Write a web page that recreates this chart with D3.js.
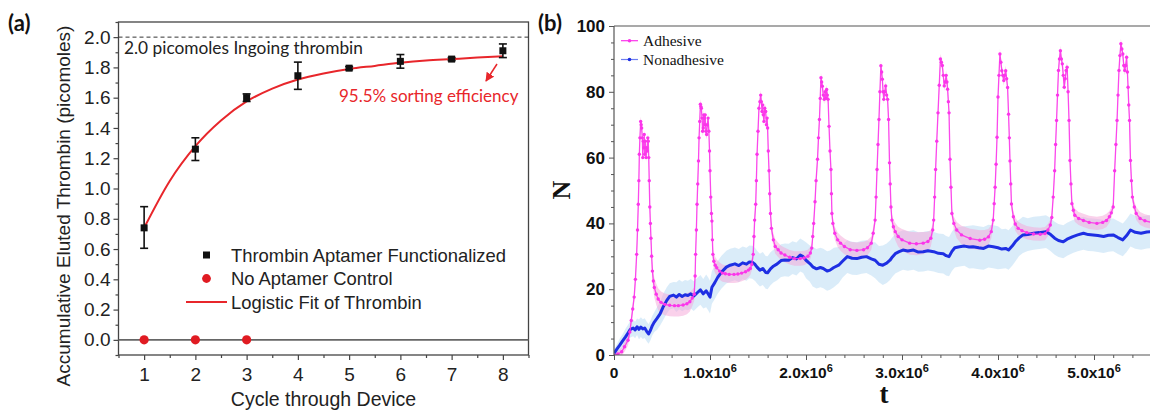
<!DOCTYPE html>
<html><head><meta charset="utf-8">
<script src="https://cdn.jsdelivr.net/npm/d3@7"></script>
<style>body{margin:0;background:#fff}svg{display:block}</style>
</head><body>
<svg id="c" width="1150" height="410"></svg>
<script>
// ---------- Panel (a) data ----------
const cycles = [1, 2, 3, 4, 5, 6, 7, 8];
const thrombinMean = [0.74, 1.26, 1.60, 1.745, 1.795, 1.84, 1.855, 1.91];
const thrombinLow  = [0.605, 1.185, 1.575, 1.655, 1.785, 1.795, 1.845, 1.865];
const thrombinHigh = [0.88, 1.335, 1.625, 1.835, 1.805, 1.885, 1.865, 1.955];
const controlCycles = [1, 2, 3];
const controlValues = [0, 0, 0];
const fitX = [1, 1.5, 2, 2.5, 3, 3.5, 4, 4.5, 5, 5.5, 6, 6.5, 7, 7.5, 8];
const fitY = [0.74, 1.05, 1.28, 1.45, 1.575, 1.66, 1.72, 1.76, 1.79, 1.81, 1.83, 1.845, 1.855, 1.865, 1.873];
const ingoingLevel = 2.0;
const aYTicks = [0, 0.2, 0.4, 0.6, 0.8, 1.0, 1.2, 1.4, 1.6, 1.8, 2.0];
const aYMinor = [-0.1, 0.1, 0.3, 0.5, 0.7, 0.9, 1.1, 1.3, 1.5, 1.7, 1.9, 2.1];
const aXTicks = [1, 2, 3, 4, 5, 6, 7, 8];
const aXMinor = [0.5, 1.5, 2.5, 3.5, 4.5, 5.5, 6.5, 7.5, 8.5];
const aLegend = ["Thrombin Aptamer Functionalized", "No Aptamer Control", "Logistic Fit of Thrombin"];

// ---------- Panel (b) data: [t (x10^6), N, band half-width] ----------
const adhesive = [
[0,0,1],[0.04,0.3,1],[0.08,1,1.2],[0.11,2.5,1.5],[0.146,4.5,1.5],[0.165,7,1.5],[0.18,10.5,1.5],[0.195,14,1.5],[0.21,17.6,1.5],[0.223,23,1.5],[0.236,30.6,1.5],[0.245,38,1.5],[0.253,45.8,1.5],[0.259,53,1.5],[0.264,61,1.5],[0.27,66,1.5],[0.278,71,1.5],[0.283,70,1.5],[0.288,69,1.5],[0.295,66,1.5],[0.3,60,1.5],[0.305,65,1.5],[0.31,63,1.5],[0.315,67,1.5],[0.32,61,1.5],[0.327,65,1.5],[0.334,60,1.5],[0.34,63,1.5],[0.347,62,1.5],[0.352,66,1.5],[0.357,65,1.5],[0.362,60,1.5],[0.367,53,1.5],[0.373,45,1.5],[0.379,40,1.8],[0.385,35.5,2],[0.392,30,2.2],[0.4,25.5,2.5],[0.41,22.5,2.8],[0.42,20.5,3],[0.44,18.5,3.2],[0.46,17,3.3],[0.49,16,3.3],[0.53,15.4,3.3],[0.58,15.1,3.3],[0.63,15,3.3],[0.67,15,3.3],[0.72,15.2,3.3],[0.76,15.6,3.2],[0.79,16.2,3],[0.815,17.3,2.5],[0.836,18.5,2],
[0.845,24,1.5],[0.85,30.6,1.5],[0.858,38,1.5],[0.865,45.8,1.5],[0.872,52,1.5],[0.88,59,1.5],[0.886,66,1.5],[0.893,71,1.5],[0.9,76.2,1.5],[0.905,75.5,1.5],[0.91,75,1.5],[0.917,72,1.5],[0.923,68,1.5],[0.93,69,1.5],[0.935,73,1.5],[0.94,72,1.5],[0.945,70,1.5],[0.95,73,1.5],[0.957,68,1.5],[0.965,67,1.5],[0.972,70,1.5],[0.98,72,1.5],[0.988,68,1.5],[0.995,62,1.5],[1.0,56,1.5],[1.008,48,1.5],[1.015,43,1.6],[1.02,40.7,1.8],[1.025,35,2],[1.03,30.6,2.2],[1.04,28.5,2.4],[1.055,27.3,2.5],[1.07,26.5,2.5],[1.1,25.5,2.6],[1.13,24.9,2.6],[1.16,24.7,2.6],[1.2,24.5,2.6],[1.25,24.5,2.6],[1.29,24.6,2.6],[1.33,24.9,2.5],[1.37,25.3,2.4],[1.4,25.8,2.2],[1.42,26.3,2],[1.435,27.5,1.8],
[1.45,30.6,1.5],[1.458,36,1.5],[1.465,41,1.5],[1.476,45.8,1.5],[1.483,53,1.5],[1.49,61,1.5],[1.5,68,1.5],[1.51,75,1.5],[1.52,77,1.5],[1.528,79,1.5],[1.535,77,1.5],[1.542,74,1.5],[1.548,76,1.5],[1.555,73,1.5],[1.562,71,1.5],[1.57,75,1.5],[1.58,74,1.5],[1.588,70,1.5],[1.595,72,1.5],[1.6,69,1.5],[1.607,62,1.5],[1.615,56,1.5],[1.622,49,1.5],[1.63,43,1.6],[1.64,38.5,1.8],[1.66,35,2],[1.68,33,2.2],[1.71,32,2.2],[1.74,31,2.2],[1.78,30.4,2.2],[1.83,29.7,2.2],[1.88,29.3,2.2],[1.94,29.3,2.2],[1.98,29.5,2.2],[2.02,30,2],[2.045,31,1.8],
[2.06,32.5,1.5],[2.07,36,1.5],[2.08,40,1.5],[2.094,46.6,1.5],[2.105,53,1.5],[2.12,59.5,1.5],[2.13,66,1.5],[2.14,71.6,1.5],[2.148,78,1.5],[2.156,84.3,1.5],[2.163,83,1.5],[2.17,81.7,1.5],[2.18,79,1.5],[2.19,77.7,1.5],[2.2,80,1.5],[2.208,78,1.5],[2.215,80.7,1.5],[2.222,79,1.5],[2.23,77.7,1.5],[2.24,69.5,1.5],[2.25,62,1.5],[2.26,56.4,1.5],[2.265,49,1.5],[2.27,43,1.6],[2.28,40,1.8],[2.3,37,2],[2.33,35,2.2],[2.36,34,2.3],[2.4,33,2.4],[2.46,32,2.4],[2.53,31.8,2.4],[2.6,32,2.4],[2.64,32.6,2.3],[2.68,34,2],
[2.7,37,1.8],[2.72,41,1.5],[2.73,48,1.5],[2.74,56.4,1.5],[2.75,64,1.5],[2.76,71.6,1.5],[2.77,80,1.5],[2.78,87.9,1.5],[2.788,86,1.5],[2.795,83.8,1.5],[2.803,80,1.5],[2.81,77.7,1.5],[2.82,80,1.5],[2.83,81.8,1.5],[2.84,79,1.5],[2.85,77.7,1.5],[2.86,71.6,1.5],[2.87,58.4,1.5],[2.877,52,1.5],[2.885,45,1.6],[2.895,41,1.8],[2.91,39,2.2],[2.93,37.5,2.6],[2.96,36,3],[3.0,35,3.3],[3.08,34,3.5],[3.15,33.8,3.5],[3.22,34,3.4],[3.27,34.5,3],[3.3,35.5,2.5],[3.32,38,2],
[3.33,41,1.5],[3.34,48,1.5],[3.35,56.4,1.5],[3.362,65,1.5],[3.375,73.6,1.5],[3.388,82,1.5],[3.4,90,1.5],[3.41,89,1.5],[3.42,88,1.5],[3.43,85,1.5],[3.44,81.8,1.5],[3.45,83,1.5],[3.46,85,1.5],[3.468,83,1.5],[3.475,80.8,1.5],[3.483,77,1.5],[3.49,73.6,1.5],[3.5,59.5,1.5],[3.51,51,1.5],[3.52,43,1.6],[3.54,40,2],[3.57,38,2.4],[3.62,36.5,2.8],[3.71,35.4,3],[3.81,34.9,3],[3.86,35.2,2.8],[3.9,35.9,2.4],[3.93,37.5,2],
[3.95,41,1.5],[3.96,46,1.5],[3.97,51,1.5],[3.98,58,1.5],[3.99,66.2,1.5],[4.0,78.4,1.5],[4.01,85,1.5],[4.02,91.5,1.5],[4.03,89,1.5],[4.04,86.4,1.5],[4.05,85,1.5],[4.06,83.4,1.5],[4.07,85,1.5],[4.08,86.4,1.5],[4.09,84,1.5],[4.1,81.3,1.5],[4.11,73.2,1.5],[4.118,66,1.5],[4.125,59,1.5],[4.133,52,1.5],[4.14,45.9,1.6],[4.16,42,1.8],[4.18,39.8,2],[4.21,38.5,2],[4.25,37.8,2],[4.3,37.2,2],[4.37,36.8,2],[4.44,36.7,2],[4.49,36.9,2],[4.52,38,1.8],[4.545,39.5,1.6],
[4.56,41.8,1.5],[4.575,48,1.5],[4.59,56,1.5],[4.6,64,1.5],[4.61,71.3,1.5],[4.62,79,1.5],[4.63,86.5,1.5],[4.64,90,1.5],[4.65,92.5,1.5],[4.66,90,1.5],[4.67,88.5,1.5],[4.68,85,1.5],[4.69,81.4,1.5],[4.7,84,1.5],[4.71,86.5,1.5],[4.72,87.5,1.5],[4.73,80,1.5],[4.74,71.3,1.5],[4.75,59.1,1.5],[4.76,52,1.5],[4.77,46,1.6],[4.785,44,1.8],[4.8,42.5,2],[4.84,41.5,2],[4.89,40.9,2],[4.95,40.3,2],[5.03,40,2],[5.09,40.3,2],[5.13,40.9,2],[5.16,42,1.8],[5.18,43.2,1.6],
[5.2,45,1.5],[5.215,56,1.5],[5.228,64,1.5],[5.24,71.3,1.5],[5.25,79,1.5],[5.26,86.5,1.5],[5.27,91,1.5],[5.28,94.6,1.5],[5.29,93,1.5],[5.3,91.5,1.5],[5.31,88,1.5],[5.32,86.5,1.5],[5.33,88,1.5],[5.34,90.5,1.5],[5.348,86,1.5],[5.355,81.4,1.5],[5.362,76,1.5],[5.37,71.3,1.5],[5.38,59.1,1.5],[5.39,53,1.5],[5.4,48,1.6],[5.42,45,1.8],[5.44,43,2],[5.48,41.5,2],[5.53,40.8,2],[5.6,40.3,2]
];
const nonadhesive = [
[0,0.5,1],[0.03,1.8,1.5],[0.06,3,2],[0.09,4.3,2],[0.12,5.5,2.5],[0.146,6.7,2.5],[0.17,7.8,2.5],[0.2,8.2,2.5],[0.22,7.6,2.5],[0.24,8.6,2.5],[0.26,7.8,3],[0.28,8.5,3],[0.3,7.9,3],[0.32,8.2,3],[0.34,7.2,3],[0.36,6.4,3],[0.38,7.5,3],[0.4,9,3],[0.42,10,3],[0.45,11.2,3.5],[0.48,12.5,3.5],[0.51,14.5,4],[0.55,16.6,4],[0.58,17.8,4],[0.62,18.2,4],[0.65,17.6,4.5],[0.68,18.4,4.5],[0.71,17.8,4.5],[0.74,18.3,4.5],[0.77,18.1,4.5],[0.8,18.6,4.5],[0.83,17.9,4.5],[0.87,19,4.5],[0.9,19.8,4.5],[0.93,18.6,4.5],[0.96,19.5,5],[0.98,18.6,5],[1.0,17.6,5],[1.02,20.6,5],[1.05,22,5],[1.08,23.6,5],[1.12,25.2,5],[1.17,26.7,5],[1.21,27.3,5],[1.26,27.7,5],[1.3,27.2,5],[1.34,28,5],[1.38,27.6,5],[1.41,28.3,5],[1.44,28.2,5],[1.47,27.5,5],[1.49,26.7,5],[1.52,25.8,5],[1.55,26.3,5],[1.58,25.1,5],[1.6,25,5],[1.63,26.2,5],[1.66,27,5],[1.7,27.7,5],[1.74,28.7,5],[1.78,28.9,5],[1.82,28.8,5],[1.86,29.6,5],[1.9,29.2,5],[1.94,30.4,5],[1.97,29.9,5],[2.0,28.8,5.5],[2.04,27.8,5.5],[2.07,26.8,6],[2.11,26.2,6],[2.15,26.6,6],[2.18,26.3,6],[2.22,25.5,6],[2.25,25.8,6],[2.29,26.6,6],[2.34,27.3,5.5],[2.38,28.5,5],[2.43,29.9,5],[2.48,29.4,5],[2.53,29.3,5],[2.58,29.7,5],[2.63,29.9,5],[2.68,29.2,5],[2.72,28.8,5.5],[2.76,27.6,5.5],[2.8,27.3,6],[2.84,27.9,6],[2.875,28.8,6],[2.9,29.8,6],[2.93,30.8,6],[2.97,31.4,6],[3.01,31.9,6],[3.06,31.6,6],[3.12,31.9,6],[3.17,31.3,6],[3.22,31.4,6],[3.27,31.7,6],[3.33,31.4,6],[3.38,30.9,6],[3.43,30.8,6],[3.46,30.2,6],[3.49,29.9,6],[3.52,31.5,6],[3.55,32.6,6],[3.6,32.9,6],[3.65,33.1,6],[3.7,32.8,6.5],[3.74,32.9,6.5],[3.8,32.6,6.5],[3.85,32.4,6.5],[3.9,33.1,6.5],[3.95,32.9,6.5],[4.0,32.6,6.5],[4.04,32.2,6],[4.08,32.4,6],[4.11,31.9,6],[4.15,33.2,6],[4.18,34.4,6],[4.22,35.6,5.5],[4.26,36.5,5.5],[4.31,36.6,5],[4.37,37,5],[4.43,37.2,5],[4.5,37.5,5],[4.54,36.8,5],[4.59,35.5,5],[4.63,34.8,5],[4.68,34.4,5],[4.72,35.2,5],[4.78,36,5],[4.83,36.5,5],[4.89,37,5],[4.94,36.6,5],[4.99,36.5,5],[5.04,36.3,5],[5.1,36,5],[5.15,36.4,5],[5.2,36.5,5],[5.25,35.7,5],[5.3,35,5],[5.34,36.3,5],[5.38,38,5],[5.43,37.3,5],[5.49,37,5],[5.55,37.4,5],[5.6,37.5,5]
];
const bXTicks = [0, 1, 2, 3, 4, 5];
const bXTickLabels = ["0", "1.0x10", "2.0x10", "3.0x10", "4.0x10", "5.0x10"];
const bXTickExp = ["", "6", "6", "6", "6", "6"];
const bXMinor = d3.range(0, 5.61, 0.2);
const bYTicks = [0, 20, 40, 60, 80, 100];
const bYMinor = [5, 10, 15, 25, 30, 35, 45, 50, 55, 65, 70, 75, 85, 90, 95];
const bLegend = ["Adhesive", "Nonadhesive"];

// ---------- drawing ----------
const svg = d3.select("#c");
svg.append("rect").attr("width", 1150).attr("height", 410).attr("fill", "#fff");
const sans = "'Liberation Sans', Arial, sans-serif";
const cal = "Lato, 'Open Sans', sans-serif";
const serif = "'Liberation Serif', 'Times New Roman', serif";

// ===== Panel (a) =====
const xA = d3.scaleLinear().domain([0.5, 8.5]).range([118.5, 528.5]);
const yA = d3.scaleLinear().domain([-0.1, 2.1]).range([355, 22]);
const gA = svg.append("g");
const axisCol = "#444";

gA.append("g").attr("transform", "translate(118.5,0)")
  .call(d3.axisLeft(yA).tickValues(aYTicks).tickSize(5).tickPadding(3).tickFormat(d3.format(".1f")))
  .call(g => { g.select(".domain").remove(); g.selectAll("line").attr("stroke", axisCol).attr("stroke-width", 1.2);
    g.selectAll("text").attr("font-family", sans).attr("font-size", 19).attr("fill", "#222"); });
gA.append("g").attr("transform", "translate(118.5,0)")
  .call(d3.axisLeft(yA).tickValues(aYMinor).tickSize(3).tickFormat(""))
  .call(g => { g.select(".domain").remove(); g.selectAll("line").attr("stroke", axisCol).attr("stroke-width", 1.2); });
gA.append("g").attr("transform", "translate(0,355)")
  .call(d3.axisBottom(xA).tickValues(aXTicks).tickSize(5).tickPadding(8).tickFormat(d3.format("d")))
  .call(g => { g.select(".domain").remove(); g.selectAll("line").attr("stroke", axisCol).attr("stroke-width", 1.2);
    g.selectAll("text").attr("font-family", sans).attr("font-size", 19).attr("fill", "#222"); });
gA.append("g").attr("transform", "translate(0,355)")
  .call(d3.axisBottom(xA).tickValues(aXMinor).tickSize(3).tickFormat(""))
  .call(g => { g.select(".domain").remove(); g.selectAll("line").attr("stroke", axisCol).attr("stroke-width", 1.2); });
gA.append("rect").attr("x", xA(0.5)).attr("y", yA(2.1)).attr("width", xA(8.5) - xA(0.5)).attr("height", yA(-0.1) - yA(2.1))
  .attr("fill", "none").attr("stroke", axisCol).attr("stroke-width", 1.3);

// zero line & ingoing dashed line
gA.append("line").attr("x1", xA(0.5)).attr("x2", xA(8.5)).attr("y1", yA(0)).attr("y2", yA(0))
  .attr("stroke", "#666").attr("stroke-width", 1.6);
gA.append("line").attr("x1", xA(0.5)).attr("x2", xA(8.5)).attr("y1", yA(ingoingLevel)).attr("y2", yA(ingoingLevel))
  .attr("stroke", "#333").attr("stroke-width", 1).attr("stroke-dasharray", "4,3");

// axis titles
gA.append("text").attr("transform", `translate(70,${(22 + 390) / 2}) rotate(-90)`).attr("text-anchor", "middle")
  .attr("font-family", sans).attr("font-size", 19).attr("fill", "#222").text("Accumulative Eluted Thrombin (picomoles)");
gA.append("text").attr("x", (xA(0.5) + xA(8.5)) / 2).attr("y", 406).attr("text-anchor", "middle")
  .attr("font-family", sans).attr("font-size", 19.5).attr("fill", "#222").text("Cycle through Device");

// fit line
const red = "#e8262b";
gA.append("path").datum(fitX.map((x, i) => [x, fitY[i]]))
  .attr("d", d3.line().x(d => xA(d[0])).y(d => yA(d[1])).curve(d3.curveMonotoneX))
  .attr("fill", "none").attr("stroke", red).attr("stroke-width", 2);

// error bars
const eb = gA.append("g").attr("stroke", "#111").attr("stroke-width", 1.6);
cycles.forEach((c, i) => {
  const x = xA(c);
  eb.append("line").attr("x1", x).attr("x2", x).attr("y1", yA(thrombinLow[i])).attr("y2", yA(thrombinHigh[i]));
  eb.append("line").attr("x1", x - 4).attr("x2", x + 4).attr("y1", yA(thrombinLow[i])).attr("y2", yA(thrombinLow[i]));
  eb.append("line").attr("x1", x - 4).attr("x2", x + 4).attr("y1", yA(thrombinHigh[i])).attr("y2", yA(thrombinHigh[i]));
});
gA.append("g").selectAll("rect").data(cycles).join("rect")
  .attr("x", d => xA(d) - 3.5).attr("y", (d, i) => yA(thrombinMean[i]) - 3.5).attr("width", 7).attr("height", 7).attr("fill", "#111");
gA.append("g").selectAll("circle").data(controlCycles).join("circle")
  .attr("cx", d => xA(d)).attr("cy", (d, i) => yA(controlValues[i])).attr("r", 4.6).attr("fill", "#e01b22");

// legend (a)
const lg = gA.append("g").attr("font-family", sans).attr("font-size", 18.4).attr("fill", "#222");
lg.append("rect").attr("x", 203).attr("y", 251.5).attr("width", 7).attr("height", 7).attr("fill", "#111");
lg.append("text").attr("x", 231).attr("y", 261.5).text(aLegend[0]);
lg.append("circle").attr("cx", 206.5).attr("cy", 278.5).attr("r", 4.4).attr("fill", "#e01b22");
lg.append("text").attr("x", 231).attr("y", 285).text(aLegend[1]);
lg.append("line").attr("x1", 186).attr("x2", 227).attr("y1", 302).attr("y2", 302).attr("stroke", red).attr("stroke-width", 2);
lg.append("text").attr("x", 231).attr("y", 308.5).text(aLegend[2]);

// annotations
gA.append("text").attr("x", 124).attr("y", 54).attr("font-family", cal).attr("font-size", 17.3).attr("fill", "#222")
  .text("2.0 picomoles Ingoing thrombin");
gA.append("text").attr("x", 339).attr("y", 102).attr("font-family", cal).attr("font-size", 17).attr("fill", red)
  .text("95.5% sorting efficiency");
svg.append("defs").append("marker").attr("id", "ah").attr("viewBox", "0 0 10 10").attr("refX", 9).attr("refY", 5)
  .attr("markerWidth", 6).attr("markerHeight", 6).attr("orient", "auto")
  .append("path").attr("d", "M0,0 L10,5 L0,10 z").attr("fill", red);
gA.append("line").attr("x1", 497).attr("y1", 64).attr("x2", 486).attr("y2", 81)
  .attr("stroke", red).attr("stroke-width", 1.5).attr("marker-end", "url(#ah)");

// panel labels
svg.append("text").attr("x", 8).attr("y", 31).attr("font-family", cal).attr("font-weight", "bold").attr("font-size", 22).attr("fill", "#111").text("(a)");
svg.append("text").attr("x", 538).attr("y", 31).attr("font-family", cal).attr("font-weight", "bold").attr("font-size", 22).attr("fill", "#111").text("(b)");

// ===== Panel (b) =====
const xB = d3.scaleLinear().domain([0, 5.6]).range([614, 614 + 5.6 * 96]);
const yB = d3.scaleLinear().domain([0, 100]).range([355, 26]);
const gB = svg.append("g");
const bAxis = "#555";
svg.select("defs").append("clipPath").attr("id", "clipB").append("rect")
  .attr("x", 614).attr("y", 26).attr("width", 536).attr("height", 329);

const plot = gB.append("g").attr("clip-path", "url(#clipB)");
const areaGen = d3.area().x(d => xB(d[0])).y0(d => yB(d[1] - d[2])).y1(d => yB(d[1] + d[2]));
const lineGen = d3.line().x(d => xB(d[0])).y(d => yB(d[1]));
const blue = "#1e2fe3", mag = "#fb35ea";
plot.append("path").datum(nonadhesive).attr("d", areaGen).attr("fill", "#bcdcf4").attr("opacity", 0.55);
plot.append("path").datum(adhesive).attr("d", areaGen).attr("fill", "#f5a3d8").attr("opacity", 0.5);
plot.append("path").datum(nonadhesive).attr("d", lineGen).attr("fill", "none").attr("stroke", blue)
  .attr("stroke-width", 3).attr("stroke-linejoin", "round");
plot.append("path").datum(adhesive).attr("d", lineGen).attr("fill", "none").attr("stroke", mag)
  .attr("stroke-width", 1.3).attr("opacity", 0.9);
plot.append("g").selectAll("circle").data(adhesive).join("circle")
  .attr("cx", d => xB(d[0])).attr("cy", d => yB(d[1])).attr("r", 1.7).attr("fill", mag);

// axes (b)
gB.append("line").attr("x1", 614).attr("x2", 614).attr("y1", 26).attr("y2", 355).attr("stroke", bAxis).attr("stroke-width", 1.2);
gB.append("line").attr("x1", 614).attr("x2", 1150).attr("y1", 355).attr("y2", 355).attr("stroke", bAxis).attr("stroke-width", 1.2);
gB.append("line").attr("x1", 614).attr("x2", 1150).attr("y1", 26).attr("y2", 26).attr("stroke", bAxis).attr("stroke-width", 1.2);
gB.append("g").attr("transform", "translate(614,0)")
  .call(d3.axisLeft(yB).tickValues(bYTicks).tickSize(5).tickPadding(4).tickFormat(d3.format("d")))
  .call(g => { g.select(".domain").remove(); g.selectAll("line").attr("stroke", bAxis);
    g.selectAll("text").attr("font-family", sans).attr("font-weight", "bold").attr("font-size", 17).attr("fill", "#111"); });
gB.append("g").attr("transform", "translate(614,0)")
  .call(d3.axisLeft(yB).tickValues(bYMinor).tickSize(3).tickFormat(""))
  .call(g => { g.select(".domain").remove(); g.selectAll("line").attr("stroke", bAxis); });
gB.append("g").attr("transform", "translate(0,355)")
  .call(d3.axisBottom(xB).tickValues(bXTicks).tickSize(5).tickFormat(""))
  .call(g => { g.select(".domain").remove(); g.selectAll("line").attr("stroke", bAxis); });
gB.append("g").attr("transform", "translate(0,355)")
  .call(d3.axisBottom(xB).tickValues(bXMinor).tickSize(3).tickFormat(""))
  .call(g => { g.select(".domain").remove(); g.selectAll("line").attr("stroke", bAxis); });
const xl = gB.append("g").attr("font-family", sans).attr("font-weight", "bold").attr("font-size", 15.5).attr("fill", "#111");
bXTicks.forEach((t, i) => {
  const tx = xl.append("text").attr("x", xB(t)).attr("y", 378).attr("text-anchor", "middle");
  tx.append("tspan").text(bXTickLabels[i]);
  if (bXTickExp[i]) tx.append("tspan").attr("dy", -6).attr("font-size", 11).text(bXTickExp[i]);
});
gB.append("text").attr("x", 884).attr("y", 403).attr("text-anchor", "middle").attr("font-family", serif)
  .attr("font-weight", "bold").attr("font-size", 27).attr("fill", "#111").text("t");
gB.append("text").attr("transform", "translate(570,190) rotate(-90)").attr("text-anchor", "middle").attr("font-family", serif)
  .attr("font-weight", "bold").attr("font-size", 26).attr("fill", "#111").text("N");

// legend (b)
const lb = gB.append("g").attr("font-family", serif).attr("font-size", 15.5).attr("fill", "#111");
[[mag, mag, 40.7], ["#6d7df0", blue, 59.5]].forEach((c, i) => {
  lb.append("line").attr("x1", 621).attr("x2", 638).attr("y1", c[2]).attr("y2", c[2]).attr("stroke", c[0]).attr("stroke-width", 1.2);
  lb.append("circle").attr("cx", 629.5).attr("cy", c[2]).attr("r", 1.8).attr("fill", c[1]);
  lb.append("text").attr("x", 643).attr("y", c[2] + 5).text(bLegend[i]);
});
</script>
</body></html>
